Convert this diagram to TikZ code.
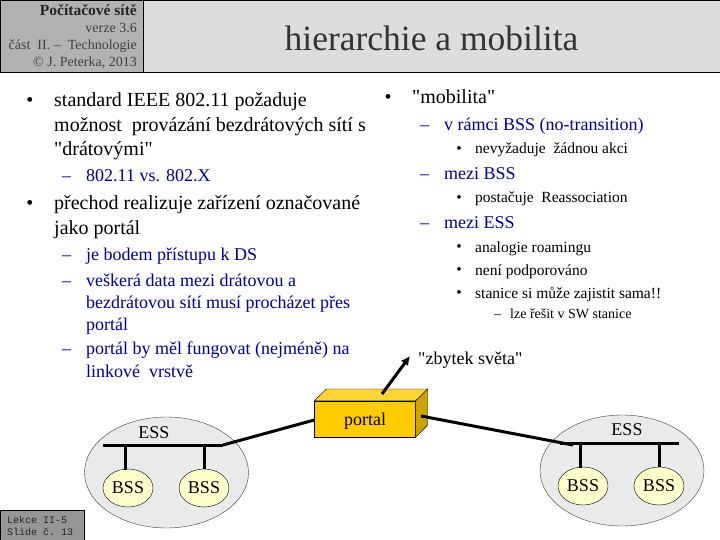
\documentclass[tikz,border=0pt]{standalone}
\usepackage{fontspec}
\setmainfont{Liberation Serif}[Ligatures=TeXOff]
\setmonofont{Liberation Mono}
\definecolor{textblue}{HTML}{000099}
\definecolor{headdark}{HTML}{B2B2B2}
\definecolor{headlight}{HTML}{DDDDDD}
\definecolor{footgray}{HTML}{969696}
\definecolor{essgray}{HTML}{EAEAEA}
\definecolor{bssyellow}{HTML}{FFFFCC}
\definecolor{portalfront}{HTML}{FFCC00}
\definecolor{portaltop}{HTML}{FFD633}
\definecolor{portalside}{HTML}{CCA300}
\tikzset{
  line/.style={anchor=base west,inner sep=0pt},
  headline/.style={anchor=base east,inner sep=0pt,font=\fontsize{14}{16}\selectfont,text=black!75},
  big/.style={line,font=\fontsize{20}{22}\selectfont},
  mid/.style={line,font=\fontsize{18}{20}\selectfont,text=textblue},
  small/.style={line,font=\fontsize{15.5}{17}\selectfont},
  tiny/.style={line,font=\fontsize{14}{16}\selectfont},
  label18/.style={inner sep=0pt,font=\fontsize{18}{20}\selectfont},
  foot/.style={line,font=\ttfamily\fontsize{10}{12}\selectfont,text=black!85},
  ess/.style={ellipse,draw=black!75,fill=essgray,minimum width=164pt,minimum height=111pt,inner sep=0pt},
  bss/.style={ellipse,draw=black,fill=bssyellow,minimum width=50pt,minimum height=38pt,label18,text depth=-1pt},
  bus/.style={line width=3pt},
  box/.style={draw=black,line width=1pt,inner sep=0pt,anchor=north west},
}
\usetikzlibrary{shapes.geometric,arrows.meta}
\begin{document}
\begin{tikzpicture}[x=1pt,y=-1pt]
  \useasboundingbox (0,0) rectangle (720,540);
  \fill[white] (0,0) rectangle (720,540);
  \node[box,fill=headlight,minimum width=577pt,minimum height=72pt] (titlebox) at (143,0) {};
  \node[box,fill=headdark,minimum width=143pt,minimum height=72pt] (headbox) at (0,0) {};
  \node[inner sep=0pt,anchor=base,font=\fontsize{35.5}{40}\selectfont,text=black!80] (title) at (431.5,51) {hierarchie a mobilita};
  \node[headline,font=\fontsize{15.5}{17}\selectfont\bfseries,text=black!85] (head1) at (137,16) {Počítačové sítě};
  \node[headline] (head2) at (137,33) {verze 3.6};
  \node[headline] (head3) at (137,50) {část\ \ II. –\ \ Technologie};
  \node[headline] (head4) at (137,67) {© J. Peterka, 2013};

  \foreach \p/\y [count=\i] in {{standard IEEE 802.11 požaduje}/107,{možnost\ \ provázání bezdrátových sítí s}/132,{"drátovými"}/156,{přechod realizuje zařízení označované}/210,{jako portál}/234}
    \node[big] (left\i) at (54,\y) {\p};
  \foreach \y [count=\i] in {102,205}
    \node[big,anchor=center] (leftdot\i) at (30,\y) {•};
  \foreach \p/\y [count=\i] in {{802.11 vs. 802.X}/182,{je bodem přístupu k DS}/260,{veškerá data mezi drátovou a}/286,{bezdrátovou sítí musí procházet přes}/308,{portál}/330,{portál by měl fungovat (nejméně) na}/354,{linkové\ \ vrstvě}/377}
    \node[mid] (sub\i) at (86,\y) {\p};
  \foreach \y [count=\i] in {182,260,286,354}
    \node[mid] (subdash\i) at (62,\y) {–};

  \node[big] (right1) at (412,104) {"mobilita"};
  \node[big,anchor=center] (rightdot) at (388,99) {•};
  \foreach \p/\y [count=\i] in {{v rámci BSS (no-transition)}/131,{mezi BSS}/180,{mezi ESS}/229}{
    \node[mid] (rsub\i) at (444,\y) {\p};
    \node[mid] (rsubdash\i) at (420,\y) {–};
  }
  \foreach \p/\y [count=\i] in {{nevyžaduje\ \ žádnou akci}/154,{postačuje\ \ Reassociation}/203,{analogie roamingu}/252,{není podporováno}/275,{stanice si může zajistit sama!!}/298}{
    \node[small] (rlow\i) at (475,\y) {\p};
    \node[small,anchor=center] (rlowdot\i) at (459,\y-4) {•};
  }
  \node[tiny] (rtiny) at (510,318) {lze řešit v SW stanice};
  \node[tiny] (rtinydash) at (494,318) {–};

  \node[ess] (ess1) at (166.5,472.5) {};
  \node[ess] (ess2) at (622,470.5) {};
  \node[label18,anchor=base] (esslabel1) at (154,438) {ESS};
  \node[label18,anchor=base] (esslabel2) at (627,435) {ESS};
  \node[bss] (bss1) at (128,488) {BSS};
  \node[bss] (bss2) at (204,488) {BSS};
  \node[bss] (bss3) at (583,486) {BSS};
  \node[bss] (bss4) at (659,486) {BSS};

  \coordinate (busa) at (103,445);
  \coordinate (busb) at (223,445);
  \coordinate (busc) at (560,443);
  \coordinate (busd) at (679,443);
  \draw[bus] (busa) -- (busb);
  \draw[bus] (busc) -- (busd);
  \draw[bus] (125,445) -- (125,470);
  \draw[bus] (bss2.north) -- (204,445);
  \draw[bus] (580,443) -- (580,468);
  \draw[bus] (bss4.north) -- (659,443);

  \coordinate (cubea) at (326.5,389);
  \coordinate (cubeb) at (427.7,389);
  \coordinate (cubec) at (427.7,425);
  \node[draw=black,fill=portalfront,minimum width=101pt,minimum height=36pt,label18,text depth=-2pt] (portal) at (365,419) {portal};
  \draw[fill=portaltop] (portal.north west) -- (cubea) -- (cubeb) -- (portal.north east) -- cycle;
  \draw[fill=portalside] (portal.north east) -- (cubeb) -- (cubec) -- (portal.south east) -- cycle;

  \coordinate (linkend) at (421,416);
  \coordinate (arrowstart) at (382,394);
  \node[label18,anchor=base west] (world) at (418,364) {"zbytek světa"};
  \draw[bus] (busb) -- (portal.west |- 0,420);
  \draw[bus] (linkend) -- (573,445);
  \draw[bus,-{Latex[length=9pt,width=9pt]}] (arrowstart) -- (410,356);

  \node[box,fill=footgray,minimum width=84pt,minimum height=30pt] (footbox) at (0,510) {};
  \node[foot] (foot1) at (7,523) {Lekce II-5};
  \node[foot] (foot2) at (7,535) {Slide č. 13};
\end{tikzpicture}
\end{document}
